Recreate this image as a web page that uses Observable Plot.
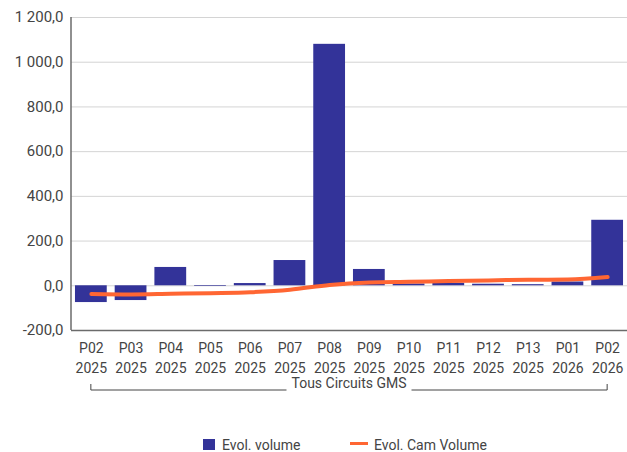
<!DOCTYPE html>
<html><head><meta charset="utf-8">
<script src="https://cdn.jsdelivr.net/npm/d3@7"></script>
<script src="https://cdn.jsdelivr.net/npm/@observablehq/plot@0.6"></script>
<style>
body{margin:0;background:#fff;font-family:Roboto,sans-serif;}
#chart svg{display:block;}
#legend{position:relative;height:27px;width:627px;font-size:14px;color:#444;}
#legend .it{position:absolute;}
#legend .txt{position:absolute;top:12px;line-height:17px;white-space:nowrap;}
</style></head><body>
<div id="chart"></div>
<div id="legend"></div>
<script>
const periods = ["P02","P03","P04","P05","P06","P07","P08","P09","P10","P11","P12","P13","P01","P02"];
const years = ["2025","2025","2025","2025","2025","2025","2025","2025","2025","2025","2025","2025","2026","2026"];
const evolVolume = [-75, -66, 82, -3, 10, 113, 1080, 73, 8, 11, 7, 5, 17, 293];
const evolCamVolume = [-37, -39, -36, -33, -29, -18, 4, 15, 18, 21, 24, 27, 28, 39];
const yTicks = [-200, 0, 200, 400, 600, 800, 1000, 1200];
const groupLabel = "Tous Circuits GMS";
const seriesNames = ["Evol. volume", "Evol. Cam Volume"];
const seriesColors = ["#333399", "#ff6633"];

const categories = periods.map((p, i) => p + " " + years[i]);
const data = categories.map((c, i) => ({cat: c, vol: evolVolume[i], cam: evolCamVolume[i]}));
const locale = d3.formatLocale({decimal: ",", thousands: " ", grouping: [3], currency: ["", "€"], minus: "-"});
const fmt = locale.format(",.1f");

const chart = Plot.plot({
  width: 627, height: 425,
  marginLeft: 71, marginRight: 0, marginTop: 17, marginBottom: 95,
  style: {fontFamily: "Roboto, sans-serif", fontSize: "14px", color: "#444", background: "#fff", overflow: "visible"},
  x: {type: "band", domain: categories, paddingInner: 0.2, paddingOuter: 0.1, round: false, label: null},
  y: {domain: [-200, 1200], label: null},
  marks: [
    Plot.gridY(yTicks, {stroke: "#d4d4d4", strokeOpacity: 1, strokeWidth: 1}),
    Plot.barY(data, {x: "cat", y: "vol", fill: seriesColors[0]}),
    Plot.line(data, {x: "cat", y: "cam", stroke: seriesColors[1], strokeWidth: 4, curve: "monotone-x"}),
    Plot.ruleY([-200], {stroke: "#6b6b6b", strokeWidth: 1.5}),
    Plot.axisY(yTicks, {tickSize: 0, tickPadding: 8, tickFormat: fmt, fill: "#444", fontSize: 15, label: null}),
    Plot.axisX({tickSize: 0, tickPadding: 9, tickFormat: d => d.replace(" ", "\n"), lineHeight: 1.38, fill: "#444", fontSize: 14, label: null})
  ]
});
document.getElementById("chart").appendChild(chart);

const svg = d3.select(chart);
const xS = chart.scale("x"), yS = chart.scale("y");
// left axis line
svg.append("line")
  .attr("x1", xS.range[0]).attr("x2", xS.range[0])
  .attr("y1", yS.apply(yTicks[0])).attr("y2", yS.apply(yTicks[yTicks.length - 1]))
  .attr("stroke", "#6b6b6b").attr("stroke-width", 1.5);

// group bracket
const bw = xS.bandwidth;
const xl = xS.apply(categories[0]) + bw / 2;
const xr = xS.apply(categories[categories.length - 1]) + bw / 2;
const yBase = yS.apply(yTicks[0]);
const yLine = yBase + 60, yText = yBase + 53.5;
const g = svg.append("g");
const t = g.append("text").attr("x", (xl + xr) / 2).attr("y", yText).attr("dy", "0.35em")
  .attr("text-anchor", "middle").attr("fill", "#444").attr("font-size", 14)
  .attr("font-family", "Roboto, sans-serif").text(groupLabel);
const tw = t.node().getComputedTextLength();
const cx = (xl + xr) / 2, gap = 5;
g.append("path")
  .attr("d", `M${xl},${yLine - 6}V${yLine}H${cx - tw / 2 - gap}M${cx + tw / 2 + gap},${yLine}H${xr}V${yLine - 6}`)
  .attr("fill", "none").attr("stroke", "#444").attr("stroke-width", 1);

// legend
const legend = document.getElementById("legend");
legend.innerHTML = `
  <span class="it" style="left:203px;top:14px;width:12px;height:11px;background:${seriesColors[0]}"></span>
  <span class="txt" style="left:222px">${seriesNames[0]}</span>
  <span class="it" style="left:350px;top:16.5px;width:18px;height:3px;background:${seriesColors[1]}"></span>
  <span class="txt" style="left:374px">${seriesNames[1]}</span>`;
</script>
</body></html>
